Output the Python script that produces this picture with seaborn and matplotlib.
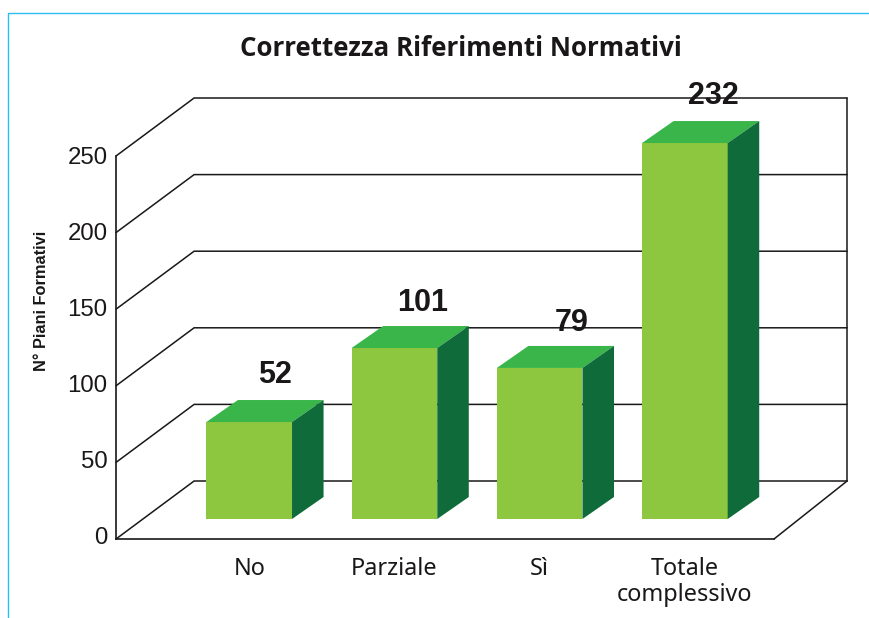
import matplotlib
matplotlib.use("Agg")
import matplotlib.pyplot as plt
from matplotlib.lines import Line2D
from matplotlib.transforms import ScaledTranslation
import seaborn as sns
import numpy as np

categories = ["No", "Parziale", "Sì", "Totale\ncomplessivo"]
labels = [52, 101, 79, 232]
# heights as actually drawn against the axis (the picture's bars do not follow the labels exactly)
drawn_heights = [63.3, 111.6, 98.6, 245.4]
y_ticks = [0, 50, 100, 150, 200, 250]

W, H = 870, 618
INK = "#1A1718"
FRONT, TOP, SIDE = "#8DC63F", "#39B54A", "#0F6B3A"

PX_X = 145.0                # pixels per category
PX_Y = 383 / 250            # pixels per value unit
wall_dx, wall_dy = 78 / PX_X, 58 / PX_Y
wall_dx_right = 73 / PX_X
bar_dx, bar_dy = 31.5 / PX_X, 22 / PX_Y
bar_base = 20 / PX_Y
bar_w = 85.5 / PX_X

sns.set_theme(style="white")
fig = plt.figure(figsize=(W / 100, H / 100), dpi=100, facecolor="white")
ax = fig.add_axes([116 / W, 1 - 539 / H, (774 - 116) / W, (539 - 156) / H])
ax.patch.set_alpha(0)

sns.barplot(x=categories, y=drawn_heights, bottom=bar_base, width=bar_w, color=FRONT,
            saturation=1, ax=ax, zorder=3, linewidth=0)
for p in ax.patches:
    p.set_clip_on(False)

xmin, xmax = -(249 - 116) / PX_X, 3 + (774 - 685) / PX_X
ax.set_xlim(xmin, xmax)
ax.set_ylim(0, 250)
back_right = xmax + wall_dx_right

# back walls and gridlines
for v in y_ticks:
    ax.plot([xmin, xmin + wall_dx, back_right], [v, v + wall_dy, v + wall_dy],
            color=INK, lw=1.1, clip_on=False, zorder=1, solid_joinstyle="miter")
ax.plot([back_right] * 2, [wall_dy, 250 + wall_dy], color=INK, lw=1.1, clip_on=False, zorder=1)
ax.plot([xmax, back_right], [0, wall_dy], color=INK, lw=1.1, clip_on=False, zorder=1)

# 3D faces of each bar
label_shift_x = [26, 28, 32, 29]
label_shift_y = [47.5, 45.5, 44.5, 47.5]
for i, h in enumerate(drawn_heights):
    l, r = i - bar_w / 2, i + bar_w / 2
    t = bar_base + h
    ax.fill([l, r, r + bar_dx, l + bar_dx], [t, t, t + bar_dy, t + bar_dy],
            color=TOP, lw=0, clip_on=False, zorder=3)
    ax.fill([r, r + bar_dx, r + bar_dx, r], [bar_base, bar_base + bar_dy, t + bar_dy, t],
            color=SIDE, lw=0, clip_on=False, zorder=3)
    ax.annotate(str(labels[i]), xy=(i, t), xytext=(label_shift_x[i] * 0.72, label_shift_y[i] * 0.72),
                textcoords="offset points", ha="center", va="center", fontsize=22,
                fontweight="bold", family="Liberation Sans", color=INK, zorder=5,
                annotation_clip=False)

sns.despine(ax=ax, top=True, right=True)
for s in ("left", "bottom"):
    ax.spines[s].set_color(INK)
    ax.spines[s].set_linewidth(1.2)

ax.set_yticks(y_ticks)
ax.tick_params(axis="y", length=0, pad=6, labelsize=17.3, labelcolor=INK)
ax.tick_params(axis="x", length=0, pad=13, labelsize=16.9, labelcolor=INK)
for tick, v in zip(ax.yaxis.get_major_ticks(), y_ticks):
    tick.label1.set_family("Liberation Sans")
    # the reference's tick labels sit slightly closer together than the grid
    lift = 4 * (1 - v / 250) / 100
    tick.label1.set_transform(tick.label1.get_transform()
                              + ScaledTranslation(0, lift, fig.dpi_scale_trans))
for t in ax.get_xticklabels():
    t.set_family("Noto Sans")
    t.set_linespacing(1.1)

ax.set_xlabel("")
fig.text(42 / W, 1 - 301 / H, "N° Piani Formativi", rotation=90, ha="center", va="center",
         fontsize=11.8, fontweight="bold", family="Liberation Sans", color=INK)
fig.text(461 / W, 1 - 48 / H, "Correttezza Riferimenti Normativi", ha="center", va="center",
         fontsize=18.6, fontweight="bold", family="Open Sans", color=INK)

# page frame
fig.add_artist(Line2D([8 / W, 8 / W, 1], [0, 1 - 13 / H, 1 - 13 / H], color="#29C0F0", lw=1.0))

fig.savefig("out.png", dpi=100)
